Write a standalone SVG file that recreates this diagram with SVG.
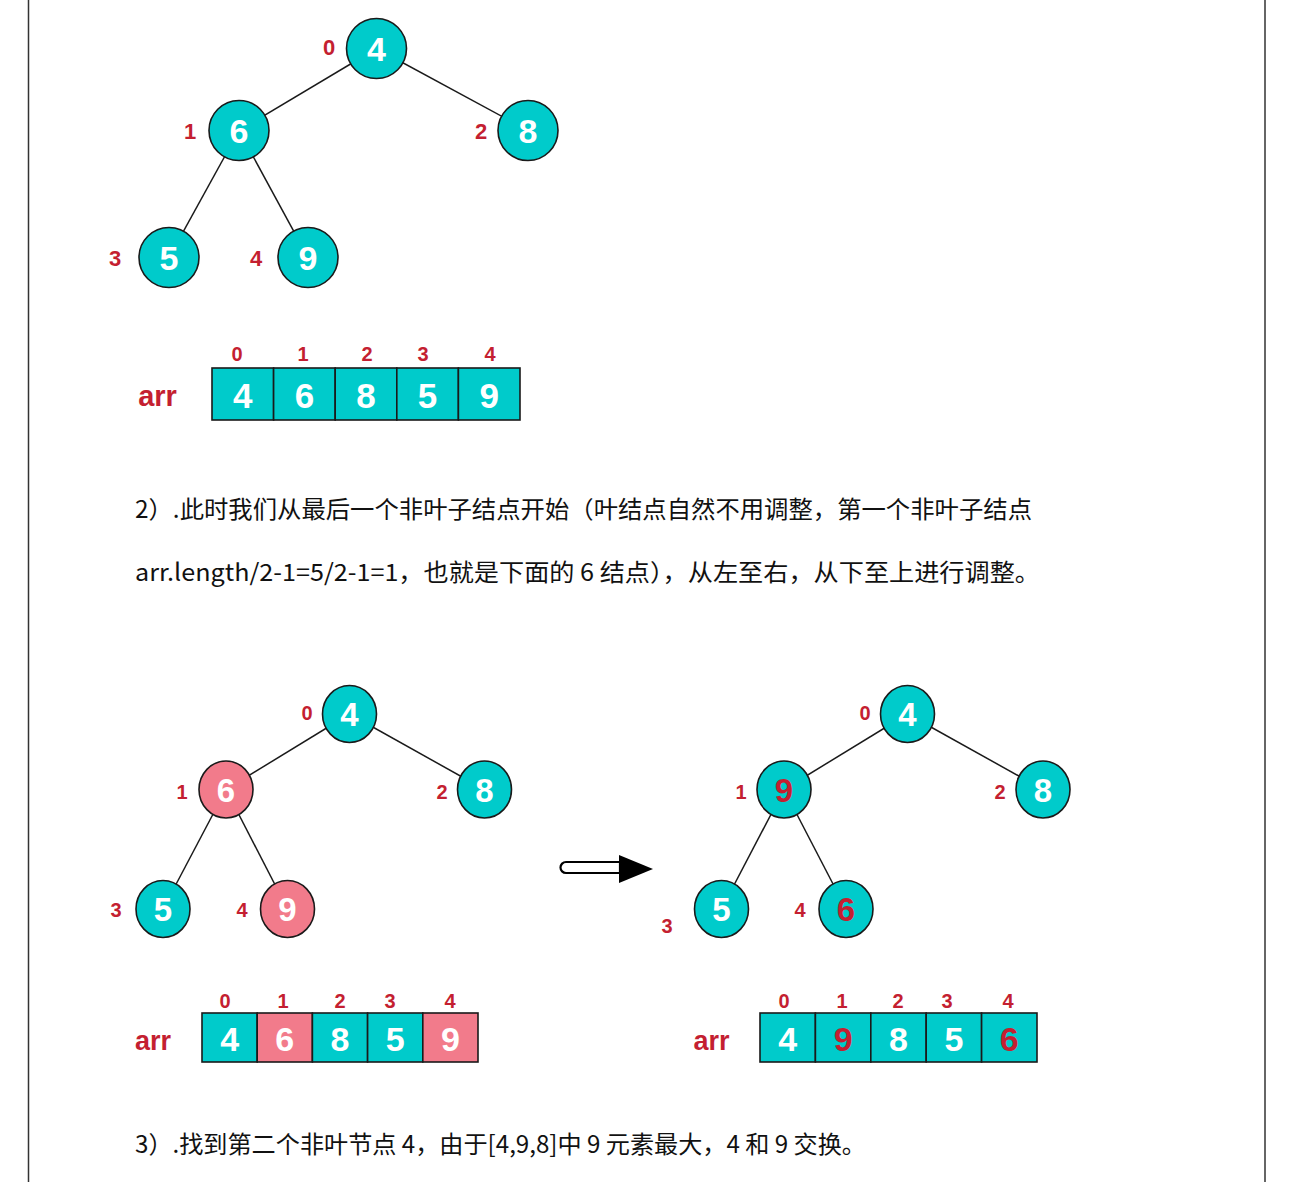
<svg xmlns="http://www.w3.org/2000/svg" width="1297" height="1182" viewBox="0 0 1297 1182">
<style>
.t{fill:#00cbcb;stroke:#1a1a1a;stroke-width:1.6}
.p{fill:#f27b8b;stroke:#1a1a1a;stroke-width:1.6}
.v{font-family:"Liberation Sans",Arial,sans-serif;font-weight:bold;fill:#fff;text-anchor:middle}
.r{fill:#c41f31}
.i{font-family:"Liberation Sans",Arial,sans-serif;font-weight:bold;fill:#c41f31;text-anchor:middle}
.e{stroke:#1a1a1a;stroke-width:1.5;fill:none}
.txt{font-family:"Noto Sans CJK SC","Liberation Sans",sans-serif;font-size:24px;fill:#111}
</style>
<rect width="1297" height="1182" fill="#fff"/>
<line x1="28.5" y1="0" x2="28.5" y2="1182" stroke="#333" stroke-width="1.5"/>
<line x1="1265" y1="0" x2="1265" y2="1182" stroke="#333" stroke-width="1.5"/>

<g id="connectors">
<line class="e" x1="376.5" y1="48.5" x2="239" y2="130.5"/>
<line class="e" x1="376.5" y1="48.5" x2="528" y2="130.5"/>
<line class="e" x1="239" y1="130.5" x2="169" y2="257.5"/>
<line class="e" x1="239" y1="130.5" x2="308" y2="257.5"/>
<line class="e" x1="349.5" y1="714" x2="226" y2="789.5"/>
<line class="e" x1="349.5" y1="714" x2="484.5" y2="789.5"/>
<line class="e" x1="226" y1="789.5" x2="163" y2="909"/>
<line class="e" x1="226" y1="789.5" x2="287.5" y2="909"/>
<line class="e" x1="907.5" y1="714" x2="784" y2="789.5"/>
<line class="e" x1="907.5" y1="714" x2="1043" y2="789.5"/>
<line class="e" x1="784" y1="789.5" x2="721.5" y2="909"/>
<line class="e" x1="784" y1="789.5" x2="846" y2="909"/>
</g>

<!-- Tree 1 -->
<g id="t1n0"><circle class="t" cx="376.5" cy="48.5" r="30"/><text class="v" x="376.5" y="61" font-size="34">4</text><text class="i" x="329" y="55" font-size="22">0</text></g>
<g id="t1n1"><circle class="t" cx="239" cy="130.5" r="30"/><text class="v" x="239" y="143" font-size="34">6</text><text class="i" x="190" y="139" font-size="22">1</text></g>
<g id="t1n2"><circle class="t" cx="528" cy="130.5" r="30"/><text class="v" x="528" y="143" font-size="34">8</text><text class="i" x="481" y="139" font-size="22">2</text></g>
<g id="t1n3"><circle class="t" cx="169" cy="257.5" r="30"/><text class="v" x="169" y="270" font-size="34">5</text><text class="i" x="115" y="266" font-size="22">3</text></g>
<g id="t1n4"><circle class="t" cx="308" cy="257.5" r="30"/><text class="v" x="308" y="270" font-size="34">9</text><text class="i" x="256" y="266" font-size="22">4</text></g>

<!-- Array 1 -->
<g id="arr1">
<text class="i" x="157.5" y="406" font-size="29">arr</text>
<rect class="t" x="212" y="368" width="61.6" height="52"/>
<rect class="t" x="273.6" y="368" width="61.6" height="52"/>
<rect class="t" x="335.2" y="368" width="61.6" height="52"/>
<rect class="t" x="396.8" y="368" width="61.6" height="52"/>
<rect class="t" x="458.4" y="368" width="61.6" height="52"/>
<text class="v" x="242.8" y="408" font-size="35">4</text>
<text class="v" x="304.4" y="408" font-size="35">6</text>
<text class="v" x="366" y="408" font-size="35">8</text>
<text class="v" x="427.6" y="408" font-size="35">5</text>
<text class="v" x="489.2" y="408" font-size="35">9</text>
<text class="i" x="237" y="361" font-size="20">0</text>
<text class="i" x="303" y="361" font-size="20">1</text>
<text class="i" x="367" y="361" font-size="20">2</text>
<text class="i" x="423" y="361" font-size="20">3</text>
<text class="i" x="490" y="361" font-size="20">4</text>
</g>

<text class="txt" x="135" y="518" textLength="897" lengthAdjust="spacingAndGlyphs">2）.此时我们从最后一个非叶子结点开始（叶结点自然不用调整，第一个非叶子结点</text>
<text class="txt" x="135" y="581" textLength="905" lengthAdjust="spacingAndGlyphs">arr.length/2-1=5/2-1=1，也就是下面的 6 结点），从左至右，从下至上进行调整。</text>

<!-- Tree 2 -->
<g id="t2n0"><ellipse class="t" cx="349.5" cy="714" rx="27" ry="28.5"/><text class="v" x="349.5" y="726" font-size="33">4</text><text class="i" x="307" y="720" font-size="20">0</text></g>
<g id="t2n1"><ellipse class="p" cx="226" cy="789.5" rx="27" ry="28.5"/><text class="v" x="226" y="801.5" font-size="33">6</text><text class="i" x="182" y="799" font-size="20">1</text></g>
<g id="t2n2"><ellipse class="t" cx="484.5" cy="789.5" rx="27" ry="28.5"/><text class="v" x="484.5" y="801.5" font-size="33">8</text><text class="i" x="442" y="799" font-size="20">2</text></g>
<g id="t2n3"><ellipse class="t" cx="163" cy="909" rx="27" ry="28.5"/><text class="v" x="163" y="921" font-size="33">5</text><text class="i" x="116" y="917" font-size="20">3</text></g>
<g id="t2n4"><ellipse class="p" cx="287.5" cy="909" rx="27" ry="28.5"/><text class="v" x="287.5" y="921" font-size="33">9</text><text class="i" x="242" y="917" font-size="20">4</text></g>

<!-- Arrow -->
<g id="arrow">
<path d="M620 862 H566 A5.5 5.5 0 0 0 566 873 H620 Z" fill="#fff" stroke="#000" stroke-width="2.2"/>
<polygon points="619,855 653,869 619,883" fill="#000"/>
</g>

<!-- Tree 3 -->
<g id="t3n0"><ellipse class="t" cx="907.5" cy="714" rx="27" ry="28.5"/><text class="v" x="907.5" y="726" font-size="33">4</text><text class="i" x="865" y="720" font-size="20">0</text></g>
<g id="t3n1"><ellipse class="t" cx="784" cy="789.5" rx="27" ry="28.5"/><text class="v r" x="784" y="801.5" font-size="33">9</text><text class="i" x="741" y="799" font-size="20">1</text></g>
<g id="t3n2"><ellipse class="t" cx="1043" cy="789.5" rx="27" ry="28.5"/><text class="v" x="1043" y="801.5" font-size="33">8</text><text class="i" x="1000" y="799" font-size="20">2</text></g>
<g id="t3n3"><ellipse class="t" cx="721.5" cy="909" rx="27" ry="28.5"/><text class="v" x="721.5" y="921" font-size="33">5</text><text class="i" x="667" y="933" font-size="20">3</text></g>
<g id="t3n4"><ellipse class="t" cx="846" cy="909" rx="27" ry="28.5"/><text class="v r" x="846" y="921" font-size="33">6</text><text class="i" x="800" y="917" font-size="20">4</text></g>

<!-- Array 2 -->
<g id="arr2">
<text class="i" x="153" y="1050" font-size="27">arr</text>
<rect class="t" x="202" y="1013" width="55.2" height="49"/>
<rect class="p" x="257.2" y="1013" width="55.2" height="49"/>
<rect class="t" x="312.4" y="1013" width="55.2" height="49"/>
<rect class="t" x="367.6" y="1013" width="55.2" height="49"/>
<rect class="p" x="422.8" y="1013" width="55.2" height="49"/>
<text class="v" x="229.6" y="1051" font-size="34">4</text>
<text class="v" x="284.8" y="1051" font-size="34">6</text>
<text class="v" x="340" y="1051" font-size="34">8</text>
<text class="v" x="395.2" y="1051" font-size="34">5</text>
<text class="v" x="450.4" y="1051" font-size="34">9</text>
<text class="i" x="225" y="1008" font-size="20">0</text>
<text class="i" x="283" y="1008" font-size="20">1</text>
<text class="i" x="340" y="1008" font-size="20">2</text>
<text class="i" x="390" y="1008" font-size="20">3</text>
<text class="i" x="450" y="1008" font-size="20">4</text>
</g>

<!-- Array 3 -->
<g id="arr3">
<text class="i" x="711.5" y="1050" font-size="27">arr</text>
<rect class="t" x="760" y="1013" width="55.4" height="49"/>
<rect class="t" x="815.4" y="1013" width="55.4" height="49"/>
<rect class="t" x="870.8" y="1013" width="55.4" height="49"/>
<rect class="t" x="926.2" y="1013" width="55.4" height="49"/>
<rect class="t" x="981.6" y="1013" width="55.4" height="49"/>
<text class="v" x="787.7" y="1051" font-size="34">4</text>
<text class="v r" x="843.1" y="1051" font-size="34">9</text>
<text class="v" x="898.5" y="1051" font-size="34">8</text>
<text class="v" x="953.9" y="1051" font-size="34">5</text>
<text class="v r" x="1009.3" y="1051" font-size="34">6</text>
<text class="i" x="784" y="1008" font-size="20">0</text>
<text class="i" x="842" y="1008" font-size="20">1</text>
<text class="i" x="898" y="1008" font-size="20">2</text>
<text class="i" x="947" y="1008" font-size="20">3</text>
<text class="i" x="1008" y="1008" font-size="20">4</text>
</g>

<text class="txt" x="135" y="1153" textLength="731" lengthAdjust="spacingAndGlyphs">3）.找到第二个非叶节点 4，由于[4,9,8]中 9 元素最大，4 和 9 交换。</text>
</svg>
